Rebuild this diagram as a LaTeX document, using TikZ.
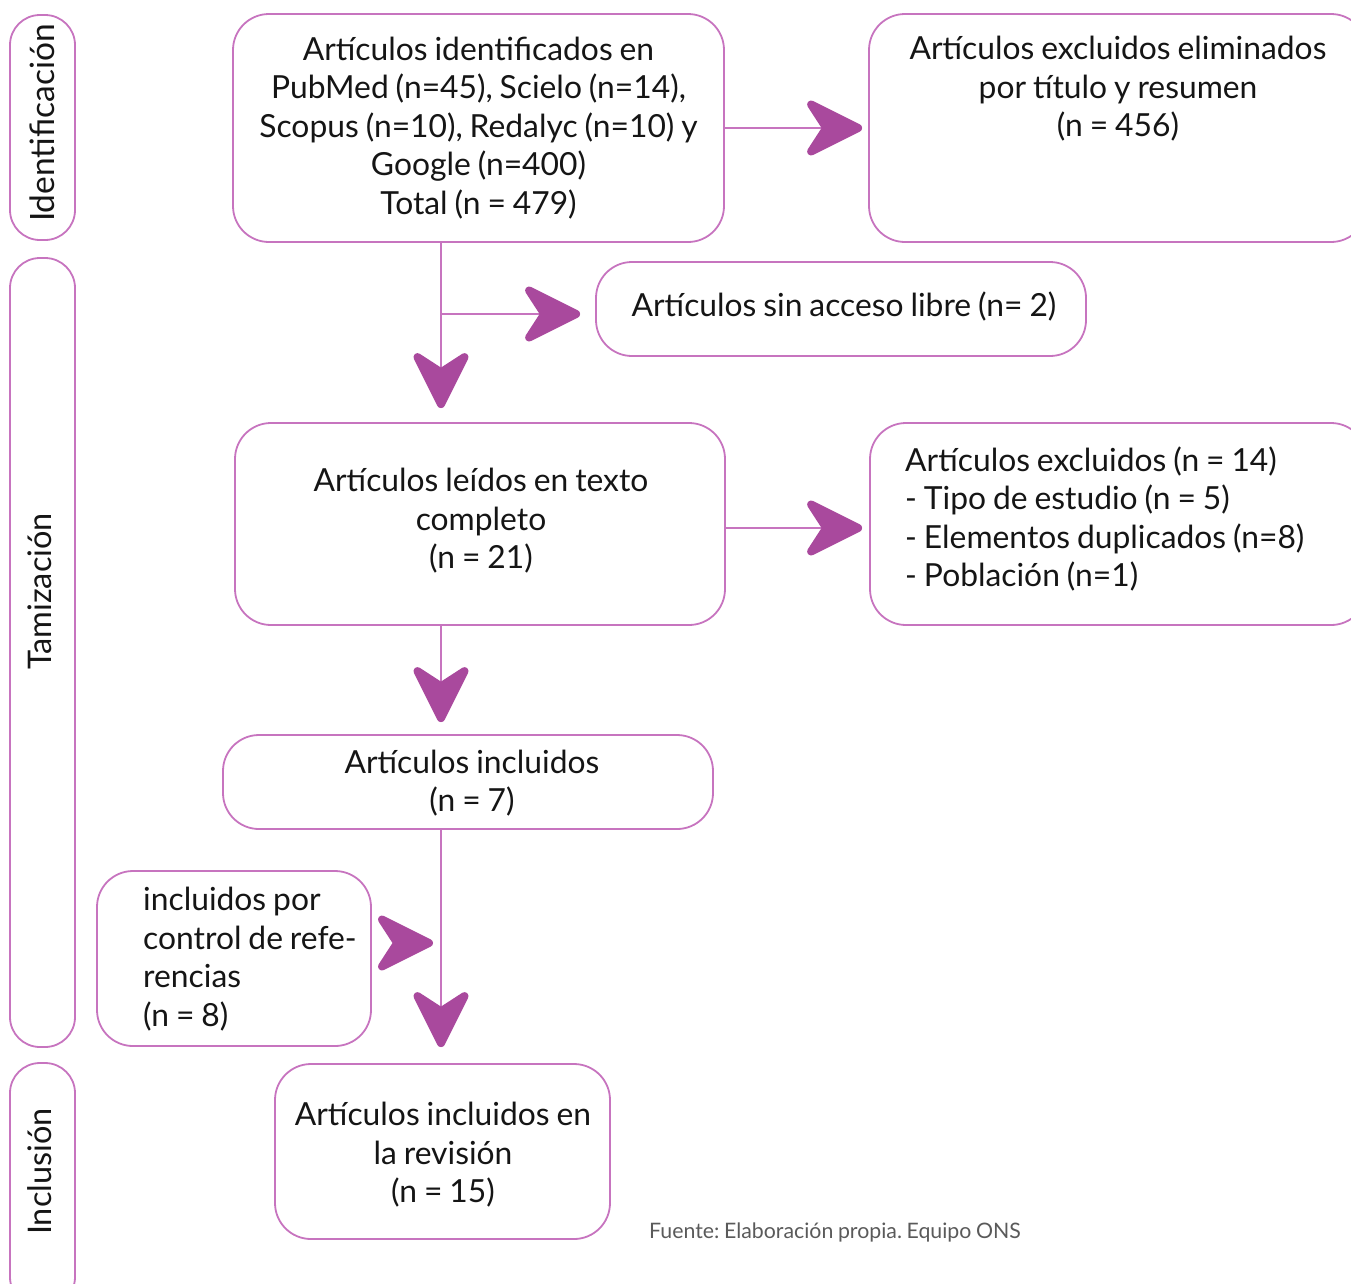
\documentclass[tikz,border=0pt]{standalone}
\usepackage{fontspec}
\setmainfont{Lato}[WordSpace=0.85]
\usetikzlibrary{arrows.meta}
\definecolor{boxc}{HTML}{C774BF}
\definecolor{arrc}{HTML}{A9499D}
\definecolor{txtc}{HTML}{151515}
\definecolor{srcc}{HTML}{5A5A5A}
\pgfdeclarearrow{
  name = Chev,
  parameters = {\the\pgfarrowlength},
  setup code = {
    \pgfarrowssettipend{0pt}
    \pgfarrowssetbackend{-\pgfarrowlength}
    \pgfarrowssetlineend{-0.62\pgfarrowlength}
    \pgfarrowssavethe\pgfarrowlength
  },
  drawing code = {
    \pgfsetlinewidth{8pt}
    \pgfsetroundjoin
    \pgfsetstrokecolor{arrc}
    \pgfsetfillcolor{arrc}
    \pgfpathmoveto{\pgfpoint{-4pt}{0pt}}
    \pgfpathlineto{\pgfpoint{-\pgfarrowlength+4pt}{0.5\pgfarrowlength-4pt}}
    \pgfpathlineto{\pgfpoint{-0.65\pgfarrowlength}{0pt}}
    \pgfpathlineto{\pgfpoint{-\pgfarrowlength+4pt}{-0.5\pgfarrowlength+4pt}}
    \pgfpathclose
    \pgfusepathqfillstroke
  },
  defaults = {length = 55pt}
}
\begin{document}
\frenchspacing
\begin{tikzpicture}[x=1pt,y=-1pt,
  box/.style={draw=boxc, line width=1.8pt, rounded corners=36pt, inner sep=0pt,
    font=\fontsize{31.8}{38.5}\selectfont, text=txtc, align=center},
  side/.style={draw=boxc, line width=1.8pt, rounded corners=30pt, inner sep=0pt,
    minimum width=65pt},
  sidetext/.style={rotate=90, font=\fontsize{32.5}{38.5}\selectfont, text=txtc, inner sep=0pt},
  txt/.style={font=\fontsize{31.8}{38.5}\selectfont, text=txtc, inner sep=0pt},
  arr/.style={draw=boxc, line width=1.8pt, -{Chev[length=55pt]}}]
\useasboundingbox (0,0) rectangle (1351,1283);
\clip (0,0) rectangle (1351,1283);

% phase labels
\node[side, minimum height=225pt] (s1) at (42.5,127.5) {};
\node[sidetext, font=\fontsize{33.5}{38.5}\selectfont] (s1t) at (42,123) {Identificación};
\node[side, minimum height=789pt] (s2) at (42.5,652.5) {};
\node[sidetext] (s2t) at (40,591.5) {Tamización};
\node[side, minimum height=244pt] (s3) at (42.5,1185) {};
\node[sidetext] (s3t) at (40,1171.5) {Inclusión};

% boxes
\node[box, minimum width=491pt, minimum height=228pt] (b1) at (478.5,128)
  {Artículos identificados en\\PubMed (n=45), Scielo (n=14),\\Scopus (n=10), Redalyc (n=10) y\\Google (n=400)\\Total (n = 479)};
\node[box, minimum width=498pt, minimum height=228pt] (ex1) at (1118,128) {};
\node[txt, align=center, anchor=north] (ex1t) at (1118,36)
  {Artículos excluidos eliminados\\por título y resumen\\(n = 456)};
\node[box, minimum width=490pt, minimum height=94pt] (acc) at (841,309) {};
\node[txt] (acct) at (844,306) {Artículos sin acceso libre (n= 2)};
\node[box, minimum width=490pt, minimum height=202pt] (leid) at (480,524) {};
\node[txt, align=center] (leidt) at (481,521)
  {Artículos leídos en texto\\completo\\(n = 21)};
\node[box, minimum width=497pt, minimum height=202pt] (ex2) at (1118.5,524) {};
\node[txt, align=left, anchor=north west] (ex2t) at (905,446.5)
  {Artículos excluidos (n = 14)\\- Tipo de estudio (n = 5)\\- Elementos duplicados (n=8)\\- Población (n=1)};
\node[box, minimum width=490pt, minimum height=94pt] (inc7) at (468,782) {};
\node[txt, align=center] (inc7t) at (472,783) {Artículos incluidos\\(n = 7)};
\node[box, minimum width=274pt, minimum height=175pt] (ctrl) at (234,958.5) {};
\node[txt, align=left, anchor=north west] (ctrlt) at (143,887)
  {incluidos por\\control de refe-\\rencias\\(n = 8)};
\node[box, minimum width=335pt, minimum height=175pt] (rev) at (442.5,1151.5) {};
\node[txt, align=center] (revt) at (443,1155)
  {Artículos incluidos en\\la revisión\\(n = 15)};

\node[anchor=west, inner sep=0pt, text=srcc, font=\fontsize{21.3}{24}\selectfont] (src) at (649,1232)
  {Fuente: Elaboración propia. Equipo ONS};

% connectors
\coordinate (trunk) at (441,0);
\coordinate (br) at (441,314);
\draw[arr, shorten >=14pt] (b1.south -| trunk) -- (leid.north -| trunk);
\draw[arr, shorten >=15pt] (br) -- (br -| acc.west);
\draw[arr, shorten >=6pt] (b1.east) -- (ex1.west);
\draw[arr, shorten >=7pt] ([yshift=-4pt]leid.east) -- ([yshift=-4pt]ex2.west);
\draw[arr, shorten >=12pt] (leid.south -| trunk) -- (inc7.north -| trunk);
\draw[arr, shorten >=16pt] (inc7.south -| trunk) -- (rev.north -| trunk);
\draw[arr, shorten <=26pt, shorten >=8pt] ([yshift=15.5pt]ctrl.east) -- ([yshift=15.5pt]ctrl.east -| trunk);
\end{tikzpicture}
\end{document}
